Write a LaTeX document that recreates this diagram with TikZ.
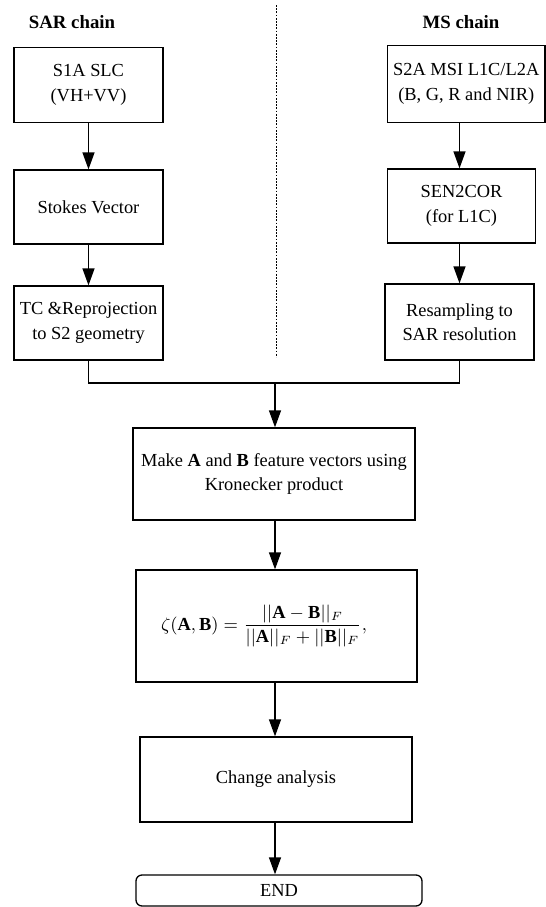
\documentclass[tikz,border=0pt]{standalone}
\usepackage{amsmath}
\usepackage{fontspec}
\setmainfont{Liberation Serif}
\usetikzlibrary{arrows.meta}
\begin{document}
\begin{tikzpicture}[x=0.5pt,y=-0.5pt,
  font=\fontsize{9.2}{12.3}\selectfont,
  box/.style={draw, line width=0.65pt, align=center, inner sep=0pt},
  title/.style={font=\fontsize{9.4}{12.3}\selectfont\bfseries},
  arr/.style={line width=0.65pt, -{Triangle[width=6pt,length=8.5pt]}},
  ln/.style={line width=0.65pt}]
\useasboundingbox (0,0) rectangle (546,907);
% titles
\node[title] (sart) at (72,22) {SAR chain};
\node[title] (mst) at (461,22) {MS chain};
% separator
\coordinate (dtop) at (276.5,5);
\coordinate (dbot) at (276.5,357);
\draw[line width=0.9pt, dash pattern=on 0.9pt off 0.7pt] (dtop) -- (dbot);
% SAR chain
\node[box, minimum width=74.5pt, minimum height=37.25pt] (s1a) at (88.5,85) {S1A SLC\\(VH+VV)};
\node[box, minimum width=74.5pt, minimum height=37pt] (stokes) at (88.5,207) {Stokes Vector};
\node[box, minimum width=74.5pt, minimum height=37pt] (tc) at (88.5,323) {TC \&Reprojection\\to S2 geometry};
% MS chain
\node[box, minimum width=78.75pt, minimum height=38.5pt] (s2a) at (466.25,84) {S2A MSI L1C/L2A\\(B, G, R and NIR)};
\node[box, minimum width=74pt, minimum height=37pt] (sen) at (461.5,206) {SEN2COR\\(for L1C)};
\node[box, minimum width=74.5pt, minimum height=38pt] (res) at (459.5,322) {Resampling to\\SAR resolution};
% central column
\node[box, minimum width=141pt, minimum height=46pt] (make) at (274,474) {Make $\mathbf{A}$ and $\mathbf{B}$ feature vectors using\\Kronecker product};
\node[box, minimum width=140.5pt, minimum height=56pt] (form) at (276.5,626) {};
\node (formtxt) at (264,626)
  {$\zeta(\mathbf{A},\mathbf{B})=\dfrac{||\mathbf{A}-\mathbf{B}||_F}{||\mathbf{A}||_F+||\mathbf{B}||_F},$};
\node[box, minimum width=136pt, minimum height=42.5pt] (chg) at (276,779.5) {Change analysis};
\node[box, rounded corners=3pt, minimum width=143pt, minimum height=15.5pt] (endn) at (279,890.5) {END};
% connectors
\coordinate (rx) at (459.5,0);
\coordinate (mx) at (275,0);
\coordinate (jl) at (88.5,383);
\coordinate (jr) at (459.5,383);
\coordinate (jm) at (275,383);
\draw[arr] (s1a.south) -- (stokes.north);
\draw[arr] (stokes.south) -- (tc.north);
\draw[arr] (s2a.south -| rx) -- (sen.north -| rx);
\draw[arr] (sen.south -| rx) -- (res.north -| rx);
\draw[ln] (tc.south) -- (jl) -- (jr) -- (res.south -| rx);
\draw[arr] (jm) -- (make.north -| mx);
\draw[arr] (make.south -| mx) -- (form.north -| mx);
\draw[arr] (form.south -| mx) -- (chg.north -| mx);
\draw[arr] (chg.south -| mx) -- (endn.north -| mx);
\end{tikzpicture}
\end{document}
